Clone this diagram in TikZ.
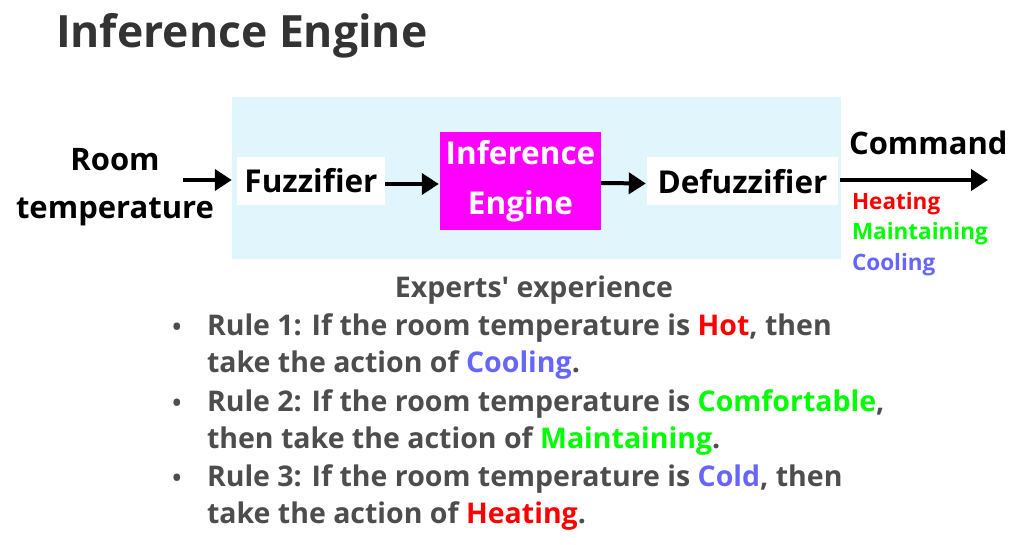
\documentclass[tikz,border=0pt]{standalone}
\usepackage{fontspec}
\setmainfont{Open Sans}[Ligatures={TeX,NoCommon}]
\usetikzlibrary{arrows.meta}
\definecolor{titlegray}{HTML}{333333}
\definecolor{rulegray}{HTML}{4D4D4D}
\definecolor{panelblue}{HTML}{E1F5FC}
\definecolor{iemag}{HTML}{FF00FF}
\definecolor{hotred}{HTML}{FF0000}
\definecolor{okgreen}{HTML}{00FF00}
\definecolor{coolblue}{HTML}{6666FF}
\tikzset{
  txt/.style={inner sep=0pt, outer sep=0pt, font=\bfseries},
  whitebox/.style={fill=white, inner sep=0pt, minimum height=48pt, font=\bfseries\fontsize{31.5}{36}\selectfont},
  arr/.style={line width=4pt, -{Triangle[length=17pt,width=21pt]}},
  ruletxt/.style={txt, anchor=base west, text=rulegray, font=\bfseries\fontsize{28.5}{32}\selectfont},
  bullet/.style={txt, anchor=base, text=rulegray, font=\bfseries\fontsize{24}{32}\selectfont},
  cmdtxt/.style={txt, anchor=base west, font=\bfseries\fontsize{22.5}{28}\selectfont},
}
\begin{document}
\begin{tikzpicture}[x=1pt,y=-1pt]
\useasboundingbox (0,0) rectangle (1024,545);
\node[txt, anchor=base west, text=titlegray, font=\bfseries\fontsize{44.5}{56}\selectfont] (title) at (56,48) {Inference Engine};
\fill[panelblue] (232,97) rectangle (841,259);
\node[whitebox, minimum width=148pt] (fuzz) at (311,181) {Fuzzifier};
\node[whitebox, minimum width=191pt] (defuzz) at (742.5,181.5) {Defuzzifier};
\node[fill=iemag, inner sep=0pt, minimum width=161pt, minimum height=98pt, text=white, align=center, font=\bfseries\fontsize{31.5}{50}\selectfont] (ie) at (520.5,181) {Inference\\Engine};
\node[txt, align=center, font=\bfseries\fontsize{31}{48}\selectfont] (room) at (115,187) {Room\\temperature};
\coordinate (outend) at (988,180);
\draw[arr] ([xshift=-31pt,yshift=7pt]room.east) -- ([xshift=-5pt,yshift=1pt]fuzz.west);
\draw[arr] ([yshift=-3pt]fuzz.east) -- ([xshift=-1pt,yshift=-3pt]ie.west);
\draw[arr] ([yshift=-2pt]ie.east) -- ([xshift=-1pt,yshift=-2pt]defuzz.west);
\draw[arr] ([xshift=2pt,yshift=1.5pt]defuzz.east) -- (outend);
\node[txt, anchor=base west, font=\bfseries\fontsize{31}{36}\selectfont] (cmd) at (849,155) {Command};
\node[cmdtxt, text=hotred] (heat) at (852,210) {Heating};
\node[cmdtxt, text=okgreen] (maint) at (852,240) {Maintaining};
\node[cmdtxt, text=coolblue] (cool) at (852,270) {Cooling};
\node[txt, anchor=base, text=rulegray, font=\bfseries\fontsize{28.5}{32}\selectfont] (exp) at (534,297) {Experts\textquotesingle{} experience};
\node[bullet] (b1) at (177,335) {•};
\node[ruletxt] (r1a) at (207,335) {Rule 1: If the room temperature is \textcolor{hotred}{Hot}, then};
\node[ruletxt] (r1b) at (207,372) {take the action of \textcolor{coolblue}{Cooling}.};
\node[bullet] (b2) at (177,411) {•};
\node[ruletxt] (r2a) at (207,411) {Rule 2: If the room temperature is \textcolor{okgreen}{Comfortable},};
\node[ruletxt] (r2b) at (207,448) {then take the action of \textcolor{okgreen}{Maintaining}.};
\node[bullet] (b3) at (177,486) {•};
\node[ruletxt] (r3a) at (207,486) {Rule 3: If the room temperature is \textcolor{coolblue}{Cold}, then};
\node[ruletxt] (r3b) at (207,523) {take the action of \textcolor{hotred}{Heating}.};
\end{tikzpicture}
\end{document}
